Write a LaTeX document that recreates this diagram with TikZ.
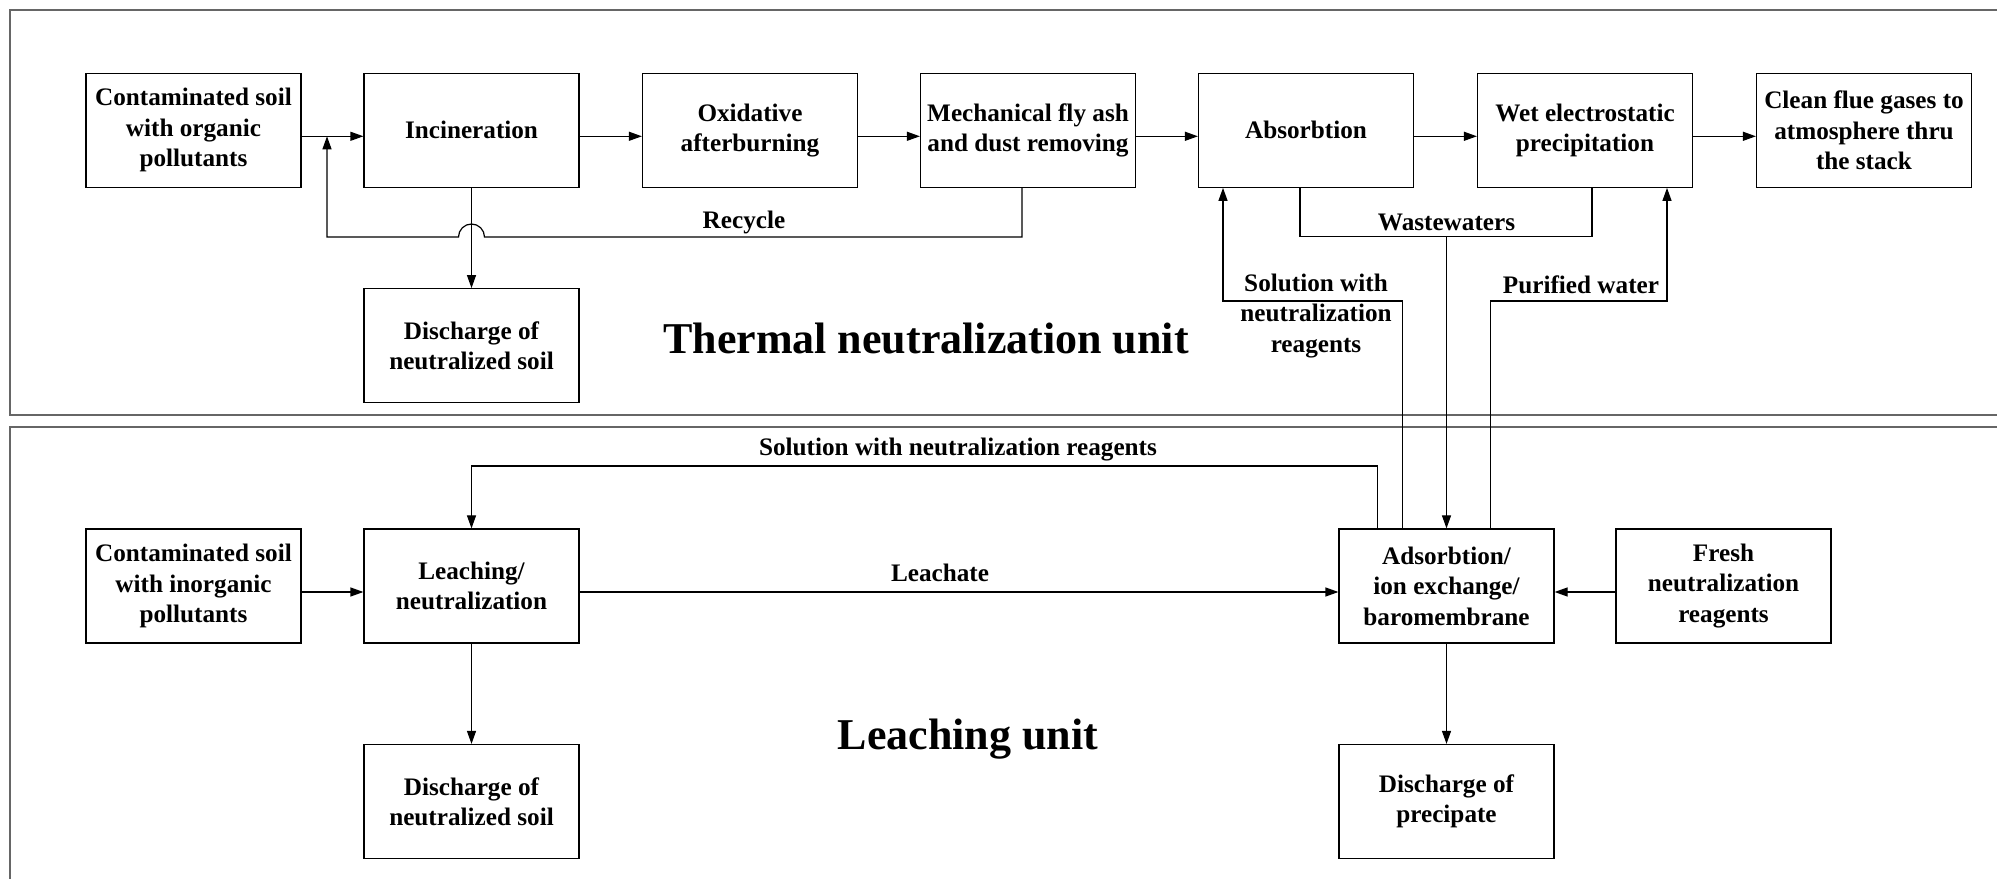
\documentclass[tikz,border=0pt]{standalone}
\usepackage{fontspec}
\setmainfont{Liberation Serif}
\usetikzlibrary{arrows.meta,calc}

\begin{document}
\begin{tikzpicture}[x=50pt,y=50pt,>={Triangle[length=6.5pt,width=4.5pt]},
  box/.style={draw,line width=0.6pt,minimum width=107.5pt,minimum height=57pt,align=center,inner sep=2pt,font=\bfseries\fontsize{12.6}{15.2}\selectfont},
  lbl/.style={align=center,inner sep=1pt,font=\bfseries\fontsize{12.6}{15.2}\selectfont},
  unit/.style={font=\bfseries\fontsize{22}{26}\selectfont},
  frame/.style={draw=black!60,line width=0.9pt},
  flow/.style={line width=0.6pt}]
\useasboundingbox (0,0) rectangle (19.97,8.79);

% unit frames
\draw[frame] (19.97,8.69) -- (0.10,8.69) -- (0.10,4.64) -- (19.97,4.64);
\draw[frame] (19.97,4.52) -- (0.10,4.52) -- (0.10,0);

% thermal neutralization unit
\node[box] (org)  at (1.935,7.487) {Contaminated soil\\with organic\\pollutants};
\node[box] (inc)  at (4.715,7.487) {Incineration};
\node[box] (oxi)  at (7.50,7.487)  {Oxidative\\afterburning};
\node[box] (mech) at (10.28,7.487) {Mechanical fly ash\\and dust removing};
\node[box] (abs)  at (13.06,7.487) {Absorbtion};
\node[box] (wet)  at (15.85,7.487) {Wet electrostatic\\precipitation};
\node[box] (flue) at (18.64,7.487) {Clean flue gases to\\atmosphere thru\\the stack};
\node[box] (dis1) at (4.715,5.333) {Discharge of\\neutralized soil};
\node[unit] (tnu) at (9.26,5.40) {Thermal neutralization unit};

% leaching unit
\node[box] (inorg) at (1.935,2.93)  {Contaminated soil\\with inorganic\\pollutants};
\node[box] (leach) at (4.715,2.93)  {Leaching/\\neutralization};
\node[box] (ads)   at (14.465,2.93) {Adsorbtion/\\ion exchange/\\baromembrane};
\node[box] (fresh) at (17.235,2.93) {Fresh\\neutralization\\reagents};
\node[box] (dis2)  at (4.715,0.775) {Discharge of\\neutralized soil};
\node[box] (dis3)  at (14.465,0.775) {Discharge of\\precipate};
\node[unit] (lu) at (9.68,1.40) {Leaching unit};

\foreach \a/\b in {org.east/inc.west,inc.east/oxi.west,oxi.east/mech.west,mech.east/abs.west,abs.east/wet.west,wet.east/flue.west,inorg.east/leach.west,leach.east/ads.west,fresh.west/ads.east}
  \draw[flow,->] ([yshift=-3pt]\a) -- ([yshift=-3pt]\b);
\draw[flow,->] (inc) -- (dis1);
\draw[flow,->] (leach) -- (dis2);
\draw[flow,->] (ads) -- (dis3);

% recycle with jump over the discharge line
\coordinate (rcy) at (3.27,6.42);
\draw[flow,->] ([xshift=-3pt]mech.south) |- ($(inc.south |- rcy)+(0.13,0)$) arc[start angle=0,end angle=180,radius=0.13] -- (rcy) -- ([yshift=-3pt]rcy |- org.east);
\node[lbl] (rcl) at (7.44,6.57) {Recycle};

% wastewaters
\coordinate (ww) at (14.465,6.425);
\draw[flow] ([xshift=-3pt]abs.south) |- (ww) -| ([xshift=3.5pt]wet.south);
\draw[flow,->] (ww) -- (ads.north);
\node[lbl] (wwl) at (14.465,6.57) {Wastewaters};

% solution and purified water back to thermal unit
\coordinate (solin) at ($(abs.south)+(-0.83,0)$);
\coordinate (pwin) at ($(wet.south)+(0.82,0)$);
\draw[flow,->] ([xshift=-22pt]ads.north) |- (solin |- 0,5.78) -- (solin);
\draw[flow,->] ([xshift=22pt]ads.north) |- (pwin |- 0,5.78) -- (pwin);
\node[lbl] (soll) at (13.16,5.63) {Solution with\\neutralization\\reagents};
\node[lbl] (pwl) at (15.81,5.94) {Purified water};

% leaching loop
\draw[flow,->] ([xshift=-34.5pt]ads.north) |- (leach.north |- 0,4.13) -- (leach.north);
\node[lbl] (sol2) at (9.58,4.29) {Solution with neutralization reagents};
\node[lbl] (lch) at (9.40,3.06) {Leachate};
\end{tikzpicture}
\end{document}
